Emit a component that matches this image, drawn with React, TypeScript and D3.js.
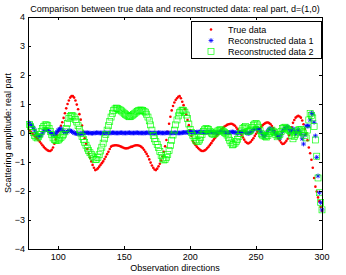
import React from 'react';
import * as d3 from 'd3';

// observation directions (degrees), one sample per degree
const directions = d3.range(78, 301);

// true data, real part (rows of 10 degrees, starting at 78)
const trueData = [
  0.1, 0.05, 0.0, -0.05, -0.1, -0.15, -0.2, -0.25, -0.3, -0.36,
  -0.42, -0.48, -0.53, -0.57, -0.6, -0.62, -0.62, -0.58, -0.5, -0.37,
  -0.22, -0.08, 0.05, 0.15, 0.25, 0.37, 0.52, 0.68, 0.85, 1.0,
  1.12, 1.22, 1.27, 1.27, 1.22, 1.12, 0.98, 0.82, 0.65, 0.46,
  0.26, 0.04, -0.18, -0.37, -0.55, -0.71, -0.85, -0.98, -1.1, -1.2,
  -1.28, -1.26, -1.22, -1.16, -1.1, -1.04, -0.98, -0.9, -0.82, -0.73,
  -0.65, -0.55, -0.47, -0.44, -0.43, -0.42, -0.42, -0.43, -0.44, -0.46,
  -0.48, -0.5, -0.52, -0.53, -0.53, -0.52, -0.5, -0.48, -0.47, -0.45,
  -0.43, -0.42, -0.42, -0.43, -0.45, -0.48, -0.52, -0.58, -0.65, -0.72,
  -0.8, -0.91, -1.02, -1.12, -1.2, -1.26, -1.28, -1.23, -1.15, -1.06,
  -0.95, -0.81, -0.65, -0.46, -0.24, 0.04, 0.32, 0.56, 0.78, 0.93,
  1.05, 1.14, 1.2, 1.25, 1.27, 1.2, 1.08, 0.96, 0.82, 0.64,
  0.45, 0.27, 0.1, -0.1, -0.28, -0.35, -0.41, -0.47, -0.52, -0.56,
  -0.6, -0.62, -0.62, -0.6, -0.57, -0.52, -0.47, -0.41, -0.35, -0.28,
  -0.22, -0.16, -0.1, -0.04, 0.02, 0.08, 0.13, 0.18, 0.22, 0.25,
  0.28, 0.3, 0.31, 0.32, 0.31, 0.28, 0.25, 0.19, 0.13, 0.07,
  0.01, -0.07, -0.15, -0.23, -0.3, -0.34, -0.36, -0.34, -0.3, -0.24,
  -0.18, -0.1, -0.03, 0.04, 0.1, 0.16, 0.22, 0.27, 0.31, 0.34,
  0.36, 0.36, 0.34, 0.3, 0.24, 0.16, 0.08, -0.02, -0.11, -0.19,
  -0.26, -0.33, -0.38, -0.37, -0.33, -0.27, -0.2, -0.08, 0.05, 0.2,
  0.35, 0.45, 0.53, 0.57, 0.59, 0.57, 0.53, 0.43, 0.3, 0.14,
  -0.03, -0.25, -0.5, -0.7, -0.92, -1.2, -1.55, -1.85, -2.02, -2.22,
  -2.35, -2.55, -2.68,
];

// reconstructed data 1
const recon1 = [
  0.35, 0.3, 0.25, 0.18, 0.1, 0.0, -0.08, -0.12, -0.12, -0.07,
  0.0, 0.07, 0.12, 0.12, 0.1, 0.06, 0.02, -0.02, -0.05, -0.05,
  -0.02, 0.04, 0.1, 0.14, 0.15, 0.1, 0.05, 0.03, 0.02, 0.05,
  0.08, 0.08, 0.06, 0.03, 0.0, -0.01, -0.02, -0.03, -0.03, -0.02,
  -0.02, -0.01, 0.0, 0.01, 0.01, 0.0, 0.0, -0.01, -0.01, 0.0,
  0.0, 0.01, 0.01, 0.0, 0.0, 0.0, 0.0, 0.01, 0.01, 0.0,
  0.0, 0.0, 0.0, 0.01, 0.01, 0.0, 0.0, 0.0, 0.0, 0.01,
  0.01, 0.0, 0.0, 0.0, 0.0, 0.01, 0.01, 0.0, 0.0, 0.0,
  0.0, 0.01, 0.01, 0.0, 0.0, 0.0, 0.0, 0.0, 0.0, 0.01,
  0.01, 0.0, 0.0, 0.0, 0.0, 0.0, 0.0, 0.0, 0.01, 0.01,
  0.0, 0.0, 0.0, 0.0, 0.01, 0.01, 0.0, 0.0, 0.0, 0.0,
  0.01, 0.01, 0.0, 0.0, 0.0, 0.0, 0.01, 0.02, 0.02, 0.02,
  0.02, 0.03, 0.03, 0.03, 0.03, 0.02, 0.02, 0.03, 0.03, 0.04,
  0.04, 0.03, 0.03, 0.02, 0.02, 0.03, 0.03, 0.04, 0.04, 0.03,
  0.02, 0.01, 0.01, 0.02, 0.03, 0.04, 0.05, 0.04, 0.03, 0.01,
  0.0, 0.01, 0.02, 0.03, 0.04, 0.03, 0.02, 0.0, -0.01, 0.0,
  0.02, 0.04, 0.05, 0.04, 0.03, 0.0, -0.02, 0.0, 0.02, 0.07,
  0.12, 0.14, 0.16, 0.16, 0.14, 0.08, 0.02, -0.06, -0.13, -0.07,
  0.0, 0.08, 0.15, 0.14, 0.12, 0.07, 0.02, -0.03, -0.08, -0.13,
  -0.17, -0.06, 0.05, 0.12, 0.18, 0.2, 0.22, 0.12, 0.02, 0.08,
  0.15, 0.06, -0.03, 0.05, 0.12, 0.04, -0.05, -0.2, -0.38, -0.07,
  0.24, 0.24, 0.24, 0.45, 0.69, 0.65, 0.37, -0.1, -0.84, -1.48,
  -2.06, -2.4, -2.65,
];

// reconstructed data 2
const recon2 = [
  0.3, 0.22, 0.12, 0.02, -0.08, -0.14, -0.17, -0.13, -0.05, 0.05,
  0.15, 0.23, 0.28, 0.28, 0.25, 0.16, 0.05, -0.06, -0.17, -0.22,
  -0.25, -0.25, -0.24, -0.2, -0.15, -0.1, -0.05, 0.04, 0.15, 0.33,
  0.5, 0.57, 0.6, 0.59, 0.55, 0.47, 0.38, 0.25, 0.12, 0.0,
  -0.12, -0.22, -0.32, -0.42, -0.52, -0.6, -0.68, -0.74, -0.8, -0.86,
  -0.92, -0.91, -0.85, -0.75, -0.62, -0.49, -0.35, -0.2, -0.05, 0.1,
  0.25, 0.4, 0.55, 0.68, 0.78, 0.83, 0.86, 0.85, 0.82, 0.79,
  0.76, 0.72, 0.68, 0.64, 0.6, 0.58, 0.56, 0.57, 0.6, 0.64,
  0.68, 0.72, 0.75, 0.77, 0.79, 0.79, 0.77, 0.75, 0.72, 0.65,
  0.55, 0.42, 0.28, 0.1, -0.08, -0.2, -0.3, -0.4, -0.5, -0.64,
  -0.78, -0.87, -0.93, -0.91, -0.85, -0.74, -0.6, -0.43, -0.25, -0.07,
  0.1, 0.28, 0.45, 0.59, 0.7, 0.76, 0.79, 0.77, 0.72, 0.62,
  0.5, 0.31, 0.12, 0.02, -0.08, -0.16, -0.24, -0.28, -0.3, -0.24,
  -0.15, -0.05, 0.05, 0.11, 0.15, 0.14, 0.12, 0.06, 0.0, -0.03,
  -0.05, -0.01, 0.03, 0.07, 0.1, 0.11, 0.1, 0.06, 0.02, -0.02,
  -0.07, -0.15, -0.25, -0.34, -0.41, -0.39, -0.35, -0.29, -0.22, -0.12,
  -0.02, 0.07, 0.15, 0.19, 0.22, 0.14, 0.05, 0.07, 0.1, 0.19,
  0.27, 0.31, 0.33, 0.28, 0.2, 0.08, -0.03, -0.07, -0.1, -0.12,
  -0.14, -0.08, -0.02, 0.04, 0.1, 0.06, 0.02, -0.06, -0.13, -0.09,
  -0.05, 0.05, 0.15, 0.18, 0.2, 0.16, 0.12, 0.09, 0.05, -0.08,
  -0.2, -0.12, -0.05, 0.03, 0.1, 0.11, 0.12, 0.06, 0.0, -0.09,
  -0.17, 0.1, 0.45, 0.67, 0.6, 0.52, 0.22, -0.24, -0.8, -1.55,
  -2.06, -2.4, -2.65,
];

const xTicks = [100, 150, 200, 250, 300];
const yTicks = [-4, -3, -2, -1, 0, 1, 2, 3, 4];
const legendLabels = ['True data', 'Reconstructed data 1', 'Reconstructed data 2'];

const width = 346;
const height = 275;
const margin = { top: 17, right: 24, bottom: 26, left: 28 };
const font = 'Liberation Sans, Arial, Helvetica, sans-serif';
const tickLen = 3;

// matlab style '*' marker
const star = (s: number) => {
  const d = s * 0.72;
  return `M${-s},0H${s}M0,${-s}V${s}M${-d},${-d}L${d},${d}M${-d},${d}L${d},${-d}`;
};

export default function App() {
  const x = d3.scaleLinear().domain([77, 300]).range([margin.left, width - margin.right]);
  const y = d3.scaleLinear().domain([-4, 4]).range([height - margin.bottom, margin.top]);
  const [x0, x1] = x.range();
  const [y0, y1] = y.range();
  const fmt = d3.format('d');

  const lx = 191;
  const ly = 21;
  const sq = 6;

  return (
    <svg width={width} height={height} style={{ position: 'absolute', left: 0, top: 0, background: '#fff' }}
      fontFamily={font} fontSize={9}>
      <rect x={0} y={0} width={width} height={height} fill="#fff" />

      {/* markers */}
      <g fill="#ff0000">
        {directions.map((d, i) => (
          <circle key={i} cx={x(d)} cy={y(trueData[i])} r={1.3} />
        ))}
      </g>
      <g stroke="#0000ff" strokeWidth={0.8} fill="none">
        {directions.map((d, i) => (
          <path key={i} d={star(2.4)} transform={`translate(${x(d)},${y(recon1[i])})`} />
        ))}
      </g>
      <g stroke="#00ff00" strokeWidth={0.65} fill="none">
        {directions.map((d, i) => (
          <rect key={i} x={x(d) - sq / 2} y={y(recon2[i]) - sq / 2} width={sq} height={sq} />
        ))}
      </g>

      {/* axes box and ticks */}
      <g stroke="#000" strokeWidth={1} fill="none" shapeRendering="crispEdges">
        <rect x={x0} y={y1} width={x1 - x0} height={y0 - y1} />
        {xTicks.map(t => (
          <g key={t}>
            <line x1={x(t)} x2={x(t)} y1={y0} y2={y0 - tickLen} />
            <line x1={x(t)} x2={x(t)} y1={y1} y2={y1 + tickLen} />
          </g>
        ))}
        {yTicks.map(t => (
          <g key={t}>
            <line x1={x0} x2={x0 + tickLen} y1={y(t)} y2={y(t)} />
            <line x1={x1} x2={x1 - tickLen} y1={y(t)} y2={y(t)} />
          </g>
        ))}
      </g>
      <g fill="#000">
        {xTicks.map(t => (
          <text key={t} x={x(t)} y={y0 + 11} textAnchor="middle">{fmt(t)}</text>
        ))}
        {yTicks.map(t => (
          <text key={t} x={x0 - 3} y={y(t)} dy="0.35em" textAnchor="end">{fmt(t)}</text>
        ))}
        <text x={(x0 + x1) / 2} y={12} textAnchor="middle">
          Comparison between true data and reconstructed data: real part, d=(1,0)
        </text>
        <text x={(x0 + x1) / 2} y={271} textAnchor="middle">Observation directions</text>
        <text transform={`translate(11,${(y0 + y1) / 2}) rotate(-90)`} textAnchor="middle">
          Scattering amplitude: real part
        </text>
      </g>

      {/* legend */}
      <g>
        <rect x={lx} y={ly} width={130} height={37} fill="#fff" stroke="#000" strokeWidth={1} shapeRendering="crispEdges" />
        <circle cx={lx + 20} cy={ly + 8.5} r={1.3} fill="#ff0000" />
        <path d={star(2.4)} transform={`translate(${lx + 20},${ly + 19.5})`} stroke="#0000ff" strokeWidth={0.8} fill="none" />
        <rect x={lx + 20 - sq / 2} y={ly + 30.5 - sq / 2} width={sq} height={sq} stroke="#00ff00" strokeWidth={0.65} fill="none" />
        {legendLabels.map((l, i) => (
          <text key={l} x={lx + 37} y={ly + 8.5 + i * 11} dy="0.35em">{l}</text>
        ))}
      </g>
    </svg>
  );
}
